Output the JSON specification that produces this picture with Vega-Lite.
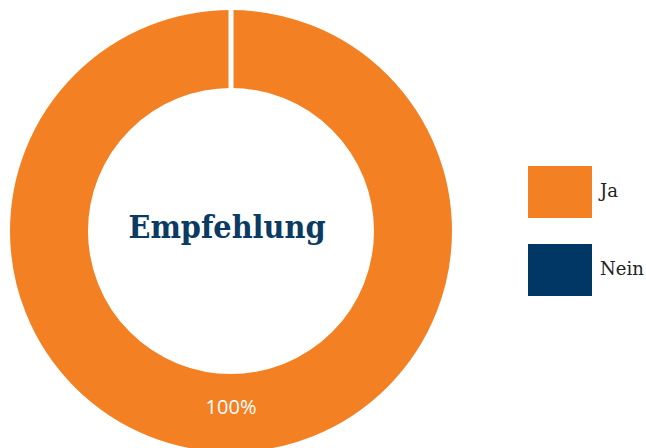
{
  "$schema": "https://vega.github.io/schema/vega-lite/v6.json",
  "width": 462,
  "height": 462,
  "padding": 0,
  "background": "white",
  "data": {"values": [
    {"antwort": "Ja", "wert": 100, "label": "100%"},
    {"antwort": "Nein", "wert": 0, "label": "0%"}
  ]},
  "layer": [
    {
      "mark": {"type": "arc", "outerRadius": 223.5, "innerRadius": 140.5, "stroke": "white", "strokeWidth": 5, "strokeJoin": "bevel"},
      "encoding": {
        "theta": {"field": "wert", "type": "quantitative", "stack": true},
        "color": {
          "field": "antwort", "type": "nominal",
          "scale": {"domain": ["Ja", "Nein"], "range": ["#F48024", "#003764"]},
          "legend": {
            "orient": "none", "legendX": 528, "legendY": 160,
            "title": null, "padding": 0,
            "symbolType": "M-1,-0.8125H1V0.8125H-1Z",
            "symbolSize": 4096, "symbolStrokeWidth": 0, "symbolOpacity": 1,
            "rowPadding": 20, "labelOffset": 8,
            "labelFont": "DejaVu Serif", "labelFontSize": 18, "labelColor": "#222222"
          }
        },
        "order": {"field": "antwort", "sort": "ascending"}
      }
    },
    {
      "transform": [{"filter": "datum.wert > 0"}],
      "mark": {"type": "text", "radius": 177, "font": "Open Sans", "fontSize": 20, "color": "white", "baseline": "middle", "align": "center"},
      "encoding": {
        "theta": {"field": "wert", "type": "quantitative", "stack": true},
        "text": {"field": "label"}
      }
    },
    {
      "data": {"values": [{"titel": "Empfehlung"}]},
      "mark": {"type": "text", "font": "DejaVu Serif Condensed", "fontWeight": "bold", "fontSize": 32, "color": "#0B3A62", "baseline": "middle", "align": "center", "dx": -4, "dy": -3},
      "encoding": {"text": {"field": "titel"}}
    }
  ]
}
